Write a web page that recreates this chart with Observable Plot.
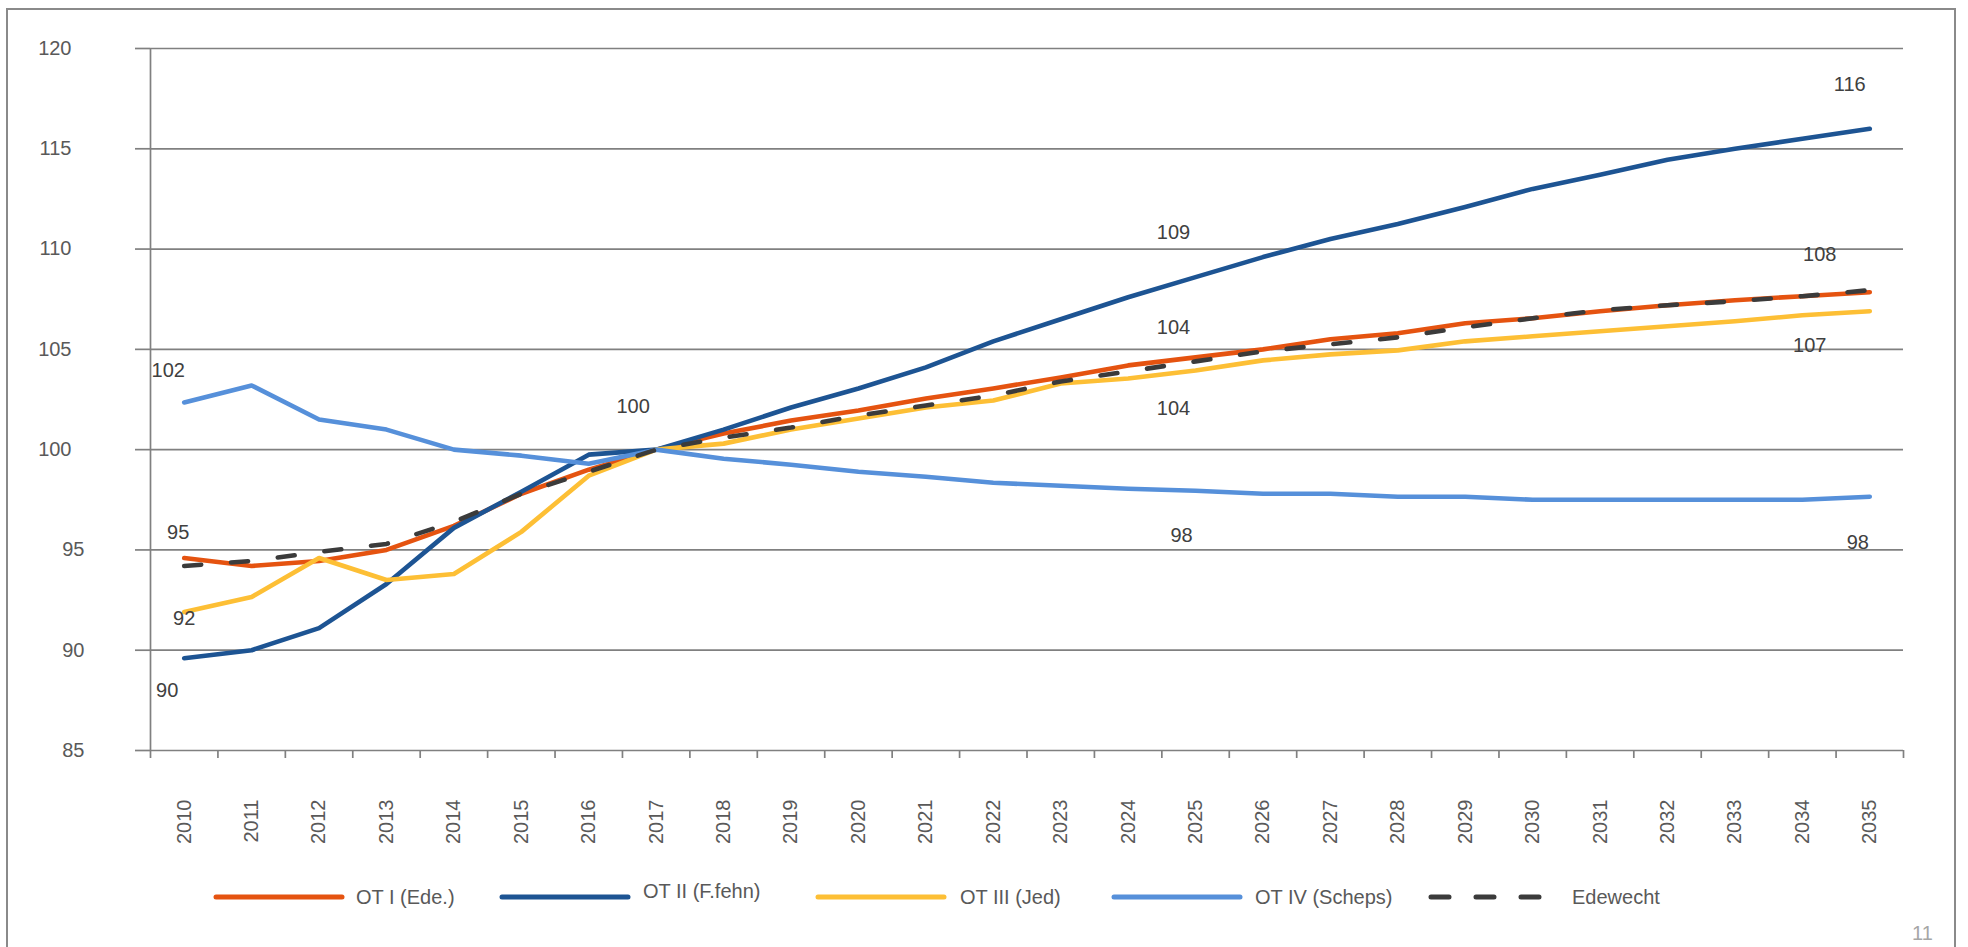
<!DOCTYPE html>
<html>
<head>
<meta charset="utf-8">
<script src="https://cdn.jsdelivr.net/npm/d3@7"></script>
<script src="https://cdn.jsdelivr.net/npm/@observablehq/plot@0.6"></script>
<style>
  html, body { margin: 0; padding: 0; background: #fff; overflow: hidden; }
  #page { position: relative; width: 1968px; height: 947px; overflow: hidden; font-family: 'Liberation Sans', Arial, sans-serif; }
  #frame { position: absolute; left: 6px; top: 8px; width: 1950px; height: 1000px; border: 2px solid #8a8a8a; box-sizing: border-box; }
  #chart { position: absolute; left: 0; top: 0; }
  .leg { position: absolute; font-size: 20px; color: #595959; line-height: 1; white-space: nowrap; }
  #pageno { position: absolute; left: 1912px; top: 923px; font-size: 20px; line-height: 1; color: #a6a6a6; }
</style>
</head>
<body>
<div id="page">
  <div id="frame"></div>
  <div id="chart"></div>
  <div id="legend"></div>
  <div id="pageno">11</div>
</div>
<script>
// ---- data ----
const years = [2010,2011,2012,2013,2014,2015,2016,2017,2018,2019,2020,2021,2022,2023,2024,2025,2026,2027,2028,2029,2030,2031,2032,2033,2034,2035];
const seriesNames = ["OT I (Ede.)", "OT II (F.fehn)", "OT III (Jed)", "OT IV (Scheps)", "Edewecht"];
const otI =   [94.6,94.2,94.45,95.0,96.2,97.8,99.0,100,100.8,101.45,101.95,102.55,103.05,103.6,104.2,104.6,105.0,105.5,105.8,106.3,106.55,106.9,107.2,107.45,107.65,107.85];
const otII =  [89.6,90.0,91.1,93.3,96.1,97.9,99.75,100,101.0,102.1,103.05,104.1,105.4,106.5,107.6,108.6,109.6,110.5,111.25,112.1,113.0,113.7,114.45,115.0,115.5,116.0];
const otIII = [91.9,92.65,94.6,93.5,93.8,95.9,98.7,100,100.3,101.0,101.55,102.1,102.45,103.3,103.55,103.95,104.45,104.75,104.95,105.4,105.65,105.9,106.15,106.4,106.7,106.9];
const otIV =  [102.35,103.2,101.5,101.0,100.0,99.7,99.3,100.0,99.55,99.25,98.9,98.65,98.35,98.2,98.05,97.95,97.8,97.8,97.65,97.65,97.5,97.5,97.5,97.5,97.5,97.65];
const edewecht = [94.2,94.45,94.9,95.3,96.4,97.8,98.9,100,100.6,101.1,101.7,102.2,102.7,103.4,103.9,104.4,104.9,105.25,105.6,106.1,106.55,106.95,107.2,107.4,107.65,107.95];
const yTicks = [85,90,95,100,105,110,115,120];
const labelYears  = [2010,2010,2010,2010,2017,2025,2025,2025,2025,2035,2035,2035,2035];
const labelSeries = [3,0,2,1,0,1,0,2,3,1,0,2,3];
const labelTexts  = ["102","95","92","90","100","109","104","104","98","116","108","107","98"];

// ---- styling ----
const colors = ["#E55310", "#1D5493", "#FDBF35", "#5690DA", "#3B3B3B"];
const seriesValues = [otI, otII, otIII, otIV, edewecht];
const gridColor = "#808080";
const labelOffsets = [[-16,-32],[-6,-25],[0,6],[-17,32],[-23,-43],[-22,-45],[-22,-30],[-22,38],[-14,45],[-20,-44],[-50,-38],[-60,34],[-12,46]];

const rows = [];
seriesValues.forEach((vals, si) => vals.forEach((v, i) => rows.push({series: si, year: years[i], value: v})));
const boundaries = years.map(y => y - 0.5).concat([years[years.length - 1] + 0.5]);

const drawOrder = [0, 1, 2, 3, 4];
const lineMarks = drawOrder.map(si => Plot.line(rows.filter(r => r.series === si), {
  x: "year", y: "value", stroke: colors[si], strokeWidth: 4.6,
  strokeLinejoin: "round", strokeLinecap: "round",
  strokeDasharray: si === 4 ? "17,30" : null
}));

const labelMarks = labelTexts.map((t, k) => {
  const si = labelSeries[k];
  const yi = years.indexOf(labelYears[k]);
  return Plot.text([{x: labelYears[k], y: seriesValues[si][yi], t}], {
    x: "x", y: "y", text: "t", dx: labelOffsets[k][0], dy: labelOffsets[k][1],
    fill: "#404040", fontSize: 20
  });
});

const chart = Plot.plot({
  width: 1968, height: 870,
  marginLeft: 150, marginRight: 65, marginTop: 48, marginBottom: 120,
  style: {fontFamily: "'Liberation Sans', Arial, sans-serif", fontSize: "20px", color: "#595959", background: "transparent", overflow: "visible"},
  x: {domain: [years[0] - 0.5, years[years.length - 1] + 0.5], label: null},
  y: {domain: [yTicks[0], yTicks[yTicks.length - 1]], label: null},
  marks: [
    Plot.ruleY(yTicks, {stroke: gridColor, strokeWidth: 1.7}),
    Plot.axisY(yTicks.filter(v => v >= 100), {anchor: "left", tickSize: 15, tickPadding: 64, stroke: gridColor, strokeWidth: 1.7, tickFormat: d => String(d), label: null}),
    Plot.axisY(yTicks.filter(v => v < 100), {anchor: "left", tickSize: 15, tickPadding: 51, stroke: gridColor, strokeWidth: 1.7, tickFormat: d => String(d), label: null}),
    Plot.ruleX([boundaries[0]], {stroke: gridColor, strokeWidth: 1.7}),
    Plot.axisX(boundaries, {anchor: "bottom", tickSize: 8, tickFormat: () => "", stroke: gridColor, strokeWidth: 1.7, label: null}),
    Plot.axisX(years, {anchor: "bottom", tickSize: 0, tickRotate: -90, tickPadding: 49, tickFormat: d => String(d), label: null}),
    ...lineMarks,
    ...labelMarks
  ]
});
document.getElementById("chart").appendChild(chart);

// ---- legend ----
const legendSwatchLeft = [216, 502, 818, 1114, 1431];
const legendTextLeft = [356, 643, 960, 1255, 1572];
const legendTextTop = [887, 881, 887, 887, 887];
const legend = document.getElementById("legend");
seriesNames.forEach((name, si) => {
  const sw = document.createElementNS("http://www.w3.org/2000/svg", "svg");
  sw.setAttribute("width", 140); sw.setAttribute("height", 12);
  sw.style.position = "absolute"; sw.style.left = (legendSwatchLeft[si] - 4) + "px"; sw.style.top = "891px";
  const ln = document.createElementNS("http://www.w3.org/2000/svg", "line");
  ln.setAttribute("x1", 4); ln.setAttribute("x2", si === 4 ? 118 : 130);
  ln.setAttribute("y1", 6); ln.setAttribute("y2", 6);
  ln.setAttribute("stroke", colors[si]); ln.setAttribute("stroke-width", 5);
  ln.setAttribute("stroke-linecap", "round");
  if (si === 4) ln.setAttribute("stroke-dasharray", "18,27");
  sw.appendChild(ln);
  legend.appendChild(sw);
  const tx = document.createElement("div");
  tx.className = "leg"; tx.textContent = name;
  tx.style.left = legendTextLeft[si] + "px"; tx.style.top = legendTextTop[si] + "px";
  legend.appendChild(tx);
});
</script>
</body>
</html>
